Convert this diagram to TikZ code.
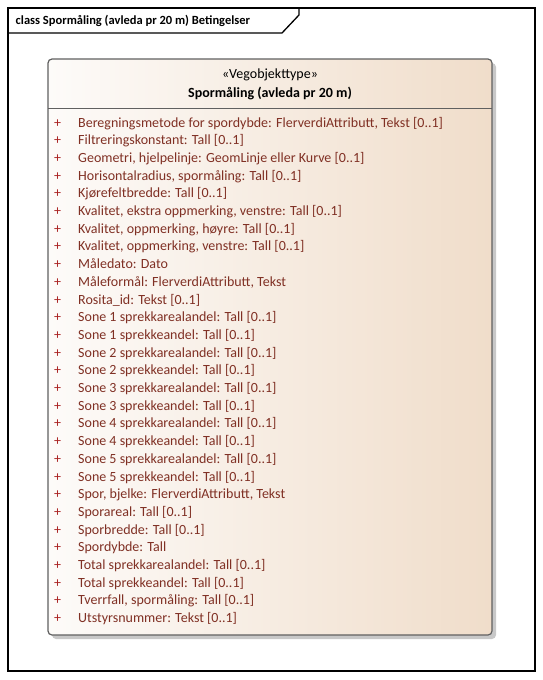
\documentclass[tikz,border=0pt]{standalone}
\usepackage{fontspec}
\setmainfont{Carlito}
\definecolor{attr}{RGB}{128,48,36}
\definecolor{plus}{RGB}{170,35,35}
\definecolor{boxR}{RGB}{240,221,202}
\definecolor{boxL}{RGB}{253,251,249}
\definecolor{boxborder}{RGB}{96,96,96}
\definecolor{shadowc}{RGB}{200,200,200}
\begin{document}
\begin{tikzpicture}[x=1pt,y=-1pt,
  frameline/.style={black,line width=1.3pt},
  attrtext/.style={anchor=west,inner sep=0pt,text height=10pt,text depth=3pt,font=\fontsize{14}{16}\selectfont,text=attr},
  plussign/.style={anchor=west,inner sep=0pt,text height=10pt,text depth=3pt,font=\fontsize{14}{16}\selectfont,text=plus},
  headtext/.style={inner sep=0pt,font=\fontsize{14}{16}\selectfont,text=black}]
\useasboundingbox (0,0) rectangle (543,680);
% frame
\draw[frameline] (8,8) rectangle (535,671);
\draw[frameline] (8,33) -- (282,33) -- (299,15) -- (299,8);
\node[anchor=west,inner sep=0pt,font=\fontsize{12.5}{14}\selectfont\bfseries] (title) at (15.5,21) {class Spormåling (avleda pr 20 m) Betingelser};
% class box
\fill[shadowc,rounded corners=4pt] (52,63) rectangle (496,639);
\shade[left color=boxL,right color=boxR,rounded corners=4pt] (48,59) rectangle (492,635);
\draw[boxborder,line width=1.2pt,rounded corners=4pt] (48,59) rectangle (492,635);
\draw[boxborder,line width=1.2pt] (48,108.5) -- (492,108.5);
\node[headtext] (stereo) at (270,75) {«Vegobjekttype»};
\node[headtext,font=\fontsize{14}{16}\selectfont\bfseries] (cname) at (270,93) {Spormåling (avleda pr 20 m)};
\foreach [count=\i from 0] \t in {
 {Beregningsmetode for spordybde: FlerverdiAttributt, Tekst [0..1]},
 {Filtreringskonstant: Tall [0..1]},
 {Geometri, hjelpelinje: GeomLinje eller Kurve [0..1]},
 {Horisontalradius, spormåling: Tall [0..1]},
 {Kjørefeltbredde: Tall [0..1]},
 {Kvalitet, ekstra oppmerking, venstre: Tall [0..1]},
 {Kvalitet, oppmerking, høyre: Tall [0..1]},
 {Kvalitet, oppmerking, venstre: Tall [0..1]},
 {Måledato: Dato},
 {Måleformål: FlerverdiAttributt, Tekst},
 {Rosita\_id: Tekst [0..1]},
 {Sone 1 sprekkarealandel: Tall [0..1]},
 {Sone 1 sprekkeandel: Tall [0..1]},
 {Sone 2 sprekkarealandel: Tall [0..1]},
 {Sone 2 sprekkeandel: Tall [0..1]},
 {Sone 3 sprekkarealandel: Tall [0..1]},
 {Sone 3 sprekkeandel: Tall [0..1]},
 {Sone 4 sprekkarealandel: Tall [0..1]},
 {Sone 4 sprekkeandel: Tall [0..1]},
 {Sone 5 sprekkarealandel: Tall [0..1]},
 {Sone 5 sprekkeandel: Tall [0..1]},
 {Spor, bjelke: FlerverdiAttributt, Tekst},
 {Sporareal: Tall [0..1]},
 {Sporbredde: Tall [0..1]},
 {Spordybde: Tall},
 {Total sprekkarealandel: Tall [0..1]},
 {Total sprekkeandel: Tall [0..1]},
 {Tverrfall, spormåling: Tall [0..1]},
 {Utstyrsnummer: Tekst [0..1]}} {
  \pgfmathsetmacro{\yy}{123.5+17.7*\i}
  \node[plussign] (p\i) at (54,\yy) {+};
  \node[attrtext] (a\i) at (78,\yy) {\t};
}
\end{tikzpicture}
\end{document}
